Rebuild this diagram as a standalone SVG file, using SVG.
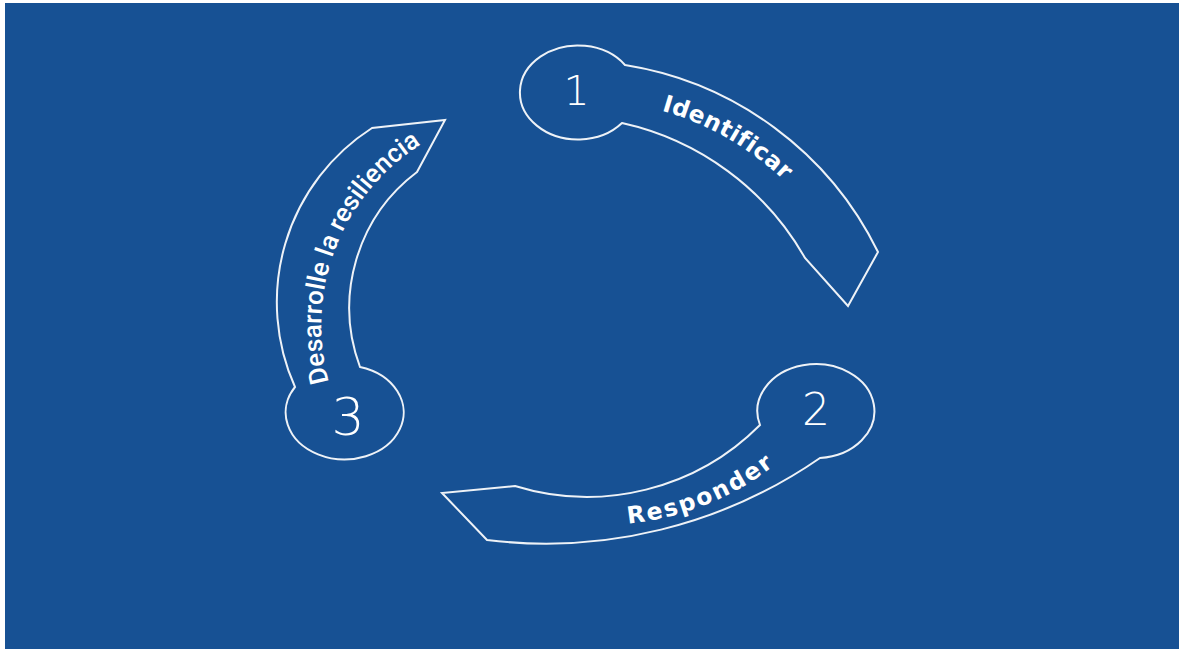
<svg xmlns="http://www.w3.org/2000/svg" width="1179" height="649" viewBox="0 0 1179 649">
<style>
.bg{fill:#175194}
.shape{fill:none;stroke:#eef2f7;stroke-width:2;stroke-linejoin:miter}
.num{fill:#ffffff;font-family:"DejaVu Sans",sans-serif;font-weight:200;text-anchor:middle}
.lbl{fill:#ffffff;font-family:"DejaVu Sans",sans-serif;font-weight:bold;font-size:23.5px}
.lbl3{fill:#ffffff;font-family:Roboto,"Liberation Sans",sans-serif;font-weight:500;font-size:26px}
</style>
<defs>
<path id="p1" d="M 661.5 110.5 A 296 296 0 0 1 801.5 198.7"/>
<path id="p2" d="M 628 523.6 A 285 285 0 0 0 800 443"/>
<path id="p3" d="M 329 382 A 213 213 0 0 1 436 136"/>
</defs>
<rect width="1179" height="649" fill="#ffffff"/>
<rect class="bg" x="5" y="3" width="1174" height="646"/>
<g id="connectors"></g>
<g id="node-1">
<path class="shape" d="M 625 65 A 341 341 0 0 1 878 252 L 848 306 L 805 258 A 280 280 0 0 0 622 123 A 58 47 0 1 1 625 65 Z"/>
<text class="num" x="576.5" y="105" font-size="41">1</text>
<text class="lbl" letter-spacing="0.5"><textPath href="#p1">Identificar</textPath></text>
</g>
<g id="node-2">
<path class="shape" d="M 760 425 A 58.5 47 0 1 1 820 458 A 482 482 0 0 1 487 540 L 442 493 L 515 486 A 244 244 0 0 0 760 425 Z"/>
<text class="num" x="816" y="425" font-size="44">2</text>
<text class="lbl" letter-spacing="2.1"><textPath href="#p2">Responder</textPath></text>
</g>
<g id="node-3">
<path class="shape" d="M 360 367 A 170 170 0 0 1 417 172 L 445 120 L 372 128 A 207 207 0 0 0 295 387 A 59 47 0 1 0 360 367 Z"/>
<text class="num" x="348" y="435" font-size="52">3</text>
<text class="lbl3" letter-spacing="0.1"><textPath href="#p3">Desarrolle la resiliencia</textPath></text>
</g>
</svg>
